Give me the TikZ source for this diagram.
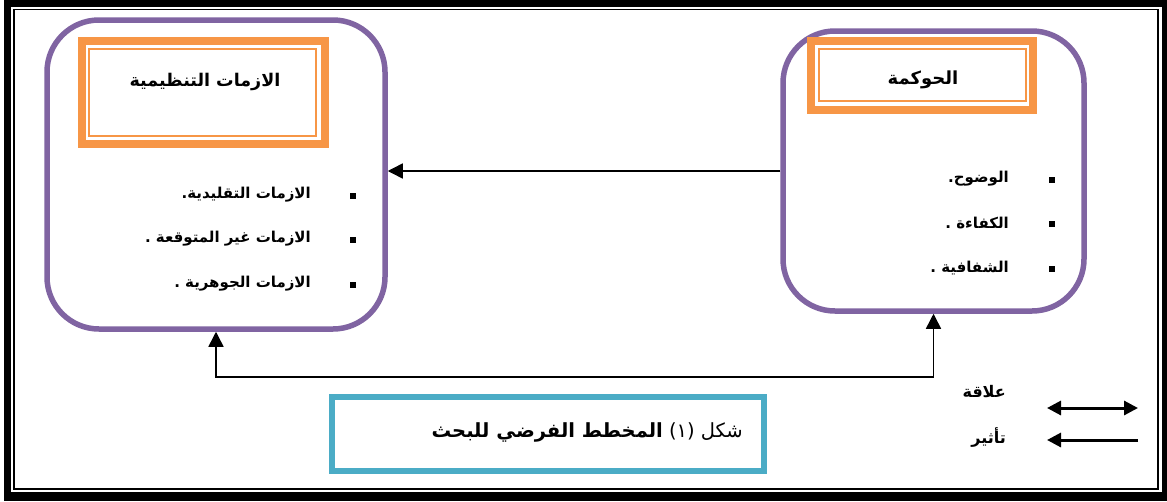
\documentclass[tikz,border=0pt]{standalone}
\usepackage{fontspec}
\usetikzlibrary{arrows.meta}
\TeXXeTstate=1
\newfontfamily\arabicfont[Script=Arabic]{DejaVu Sans}
\definecolor{boxviolet}{HTML}{8064A2}
\definecolor{titleorange}{HTML}{F79646}
\definecolor{captionblue}{HTML}{4BACC6}
\newcommand\artext[1]{{\arabicfont\beginR #1\endR}}

\tikzset{
  groupbox/.style={draw=boxviolet, line width=5.5pt, rounded corners=52pt, inner sep=0pt},
  titleframe/.style={draw=titleorange, line width=8pt, inner sep=0pt},
  titleinner/.style={draw=titleorange, line width=2pt},
  titletext/.style={font=\arabicfont\bfseries\fontsize{17.5}{20}\selectfont, inner sep=0pt},
  itemtext/.style={font=\arabicfont\bfseries\fontsize{15}{18}\selectfont, anchor=east, inner sep=0pt},
  legendtext/.style={font=\arabicfont\bfseries\fontsize{16}{18}\selectfont, anchor=east, inner sep=0pt},
  bulletmark/.style={fill=black, minimum size=6.5pt, inner sep=0pt},
  linkarrow/.style={line width=1.5pt, -{Triangle[length=15pt,width=15pt]}},
  legendarrow/.style={line width=3pt},
  captionbox/.style={draw=captionblue, line width=6pt, inner sep=0pt},
}

\begin{document}
\begin{tikzpicture}[x=1pt, y=-1pt]
\useasboundingbox (0,0) rectangle (1167,501);

% page frame: thick outer band and thin inner rule
\fill[black] (4,0) rectangle (1167,501);
\fill[white] (11,6.5) rectangle (1161.5,492);
\draw[line width=1.2pt] (14,9.5) rectangle (1158,489);

% the two concept groups
\node[groupbox, minimum width=338pt, minimum height=309pt] (crises) at (216,174.5) {};
\node[groupbox, minimum width=301pt, minimum height=280pt] (gov) at (933.5,171) {};

% title frames
\node[titleframe, minimum width=243pt, minimum height=103pt] (crisesframe) at (203.5,92.5) {};
\draw[titleinner] (89,49) rectangle (316,136);
\node[titletext] (crisestitle) at (205,82) {\artext{الازمات التنظيمية}};

\node[titleframe, minimum width=222pt, minimum height=69pt] (govframe) at (922,75.5) {};
\draw[titleinner] (819,49) rectangle (1026,101);
\node[titletext, font=\arabicfont\bfseries\fontsize{18}{20}\selectfont] (govtitle) at (923,80) {\artext{الحوكمة}};

% bullet lists
\node[bulletmark] (cb1) at (353,196) {};
\node[bulletmark] (cb2) at (353,240) {};
\node[bulletmark] (cb3) at (353,285) {};
\node[itemtext] (ci1) at (311,195) {\artext{الازمات التقليدية.}};
\node[itemtext] (ci2) at (311,239) {\artext{الازمات غير المتوقعة .}};
\node[itemtext] (ci3) at (311,284) {\artext{الازمات الجوهرية .}};

\node[bulletmark] (gb1) at (1052,180) {};
\node[bulletmark] (gb2) at (1052,224) {};
\node[bulletmark] (gb3) at (1052,269) {};
\node[itemtext] (gi1) at (1009,179) {\artext{الوضوح.}};
\node[itemtext] (gi2) at (1009,223) {\artext{الكفاءة .}};
\node[itemtext] (gi3) at (1009,268) {\artext{الشفافية .}};

% influence and relation connectors
\draw[linkarrow] (gov.west) -- (gov.west -| crises.east);
\coordinate (busL) at (216,377);
\coordinate (busR) at (933.5,377);
\draw[linkarrow, {Triangle[length=15pt,width=15pt]}-{Triangle[length=15pt,width=15pt]}]
  (crises.south) -- (busL) -- (busR) -- (gov.south);

% caption
\node[captionbox, minimum width=432pt, minimum height=74pt] (caption) at (548,434) {};
\node[font=\arabicfont\fontsize{19.5}{22}\selectfont, anchor=east, inner sep=0pt] (captiontext) at (743,432)
  {\artext{شكل (١) {\bfseries المخطط الفرضي للبحث}}};

% legend
\node[legendtext] (relationlabel) at (1006,392) {\artext{علاقة}};
\node[legendtext] (effectlabel) at (1006,437) {\artext{تأثير}};
\coordinate (relL) at (1047,408);
\coordinate (relR) at (1138,408);
\coordinate (effL) at (1047,440);
\coordinate (effR) at (1138,440);
\draw[legendarrow, {Triangle[length=14pt,width=14pt]}-{Triangle[length=14pt,width=14pt]}] (relL) -- (relR);
\draw[legendarrow, -{Triangle[length=14pt,width=14pt]}] (effR) -- (effL);
\end{tikzpicture}
\end{document}
